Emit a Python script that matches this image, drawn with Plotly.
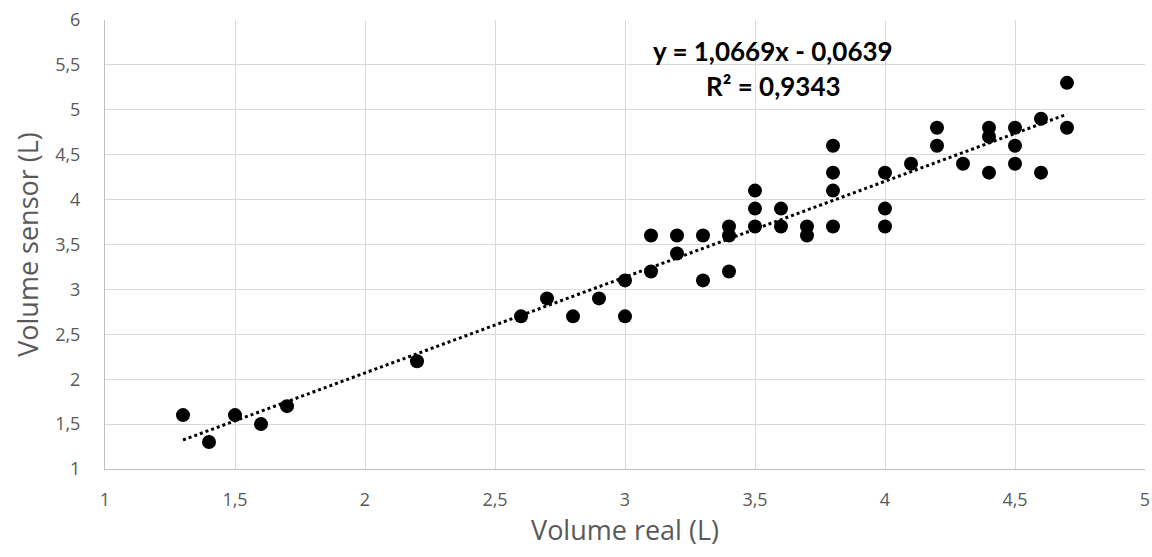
import plotly.graph_objects as go
import numpy as np

x_real = [1.3, 1.4, 1.5, 1.6, 1.7, 2.2, 2.6, 2.7, 2.8, 2.9, 3.0, 3.0, 3.1, 3.1, 3.2, 3.2,
          3.3, 3.3, 3.4, 3.4, 3.4, 3.5, 3.5, 3.5, 3.6, 3.6, 3.7, 3.7, 3.8, 3.8, 3.8, 3.8,
          4.0, 4.0, 4.0, 4.1, 4.2, 4.2, 4.3, 4.4, 4.4, 4.4, 4.5, 4.5, 4.5, 4.6, 4.6, 4.7, 4.7]
y_sensor = [1.6, 1.3, 1.6, 1.5, 1.7, 2.2, 2.7, 2.9, 2.7, 2.9, 3.1, 2.7, 3.6, 3.2, 3.6, 3.4,
            3.6, 3.1, 3.7, 3.6, 3.2, 4.1, 3.9, 3.7, 3.9, 3.7, 3.7, 3.6, 4.6, 4.3, 4.1, 3.7,
            4.3, 3.9, 3.7, 4.4, 4.8, 4.6, 4.4, 4.8, 4.7, 4.3, 4.8, 4.6, 4.4, 4.9, 4.3, 5.3, 4.8]
slope = 1.0669
intercept = -0.0639
eq_lines = ["y = 1,0669x - 0,0639", "R² = 0,9343"]
x_ticks = [1, 1.5, 2, 2.5, 3, 3.5, 4, 4.5, 5]
y_ticks = [1, 1.5, 2, 2.5, 3, 3.5, 4, 4.5, 5, 5.5, 6]

FONT = "Open Sans, sans-serif"
EQ_FONT = "Lato, Carlito, sans-serif"

tx = np.linspace(min(x_real), max(x_real), 50)
ty = slope * tx + intercept

fig = go.Figure()
fig.add_trace(go.Scatter(x=tx, y=ty, mode="lines",
                         line=dict(color="black", width=3, dash="dot"),
                         hoverinfo="skip", showlegend=False))
fig.add_trace(go.Scatter(x=x_real, y=y_sensor, mode="markers",
                         marker=dict(color="black", size=14), showlegend=False))

fig.add_annotation(x=3.57, y=5.66, xref="x", yref="y",
                   text="<b>" + eq_lines[0] + "</b>",
                   showarrow=False, align="center",
                   font=dict(family=EQ_FONT, size=26, color="black"))
fig.add_annotation(x=3.57, y=5.26, xref="x", yref="y",
                   text="<b>" + eq_lines[1] + "</b>",
                   showarrow=False, align="center",
                   font=dict(family=EQ_FONT, size=26, color="black"))

axis_common = dict(showgrid=True, gridcolor="#d9d9d9", gridwidth=1, zeroline=False,
                   tickfont=dict(family=FONT, size=18, color="#595959"),
                   ticks="", showline=True, linecolor="#bfbfbf", linewidth=1,
                   automargin=False, ticklabeloverflow="allow")
fig.update_xaxes(range=[1, 5], tickvals=x_ticks, ticklabelstandoff=14,
                 title=dict(text="Volume real (L)", font=dict(family=FONT, size=27, color="#595959"), standoff=6),
                 **axis_common)
fig.update_yaxes(range=[1, 6], tickvals=y_ticks, ticklabelstandoff=20,
                 title=dict(text="Volume sensor (L)", font=dict(family=FONT, size=27, color="#595959"), standoff=8),
                 **axis_common)
fig.update_layout(width=1152, height=557, plot_bgcolor="white", paper_bgcolor="white",
                  separators=", ", margin=dict(l=105, r=7, t=20, b=88))
fig.write_html("out.html", config={"displayModeBar": False},
               post_script="document.body.style.margin='0';document.body.style.overflow='hidden';")
